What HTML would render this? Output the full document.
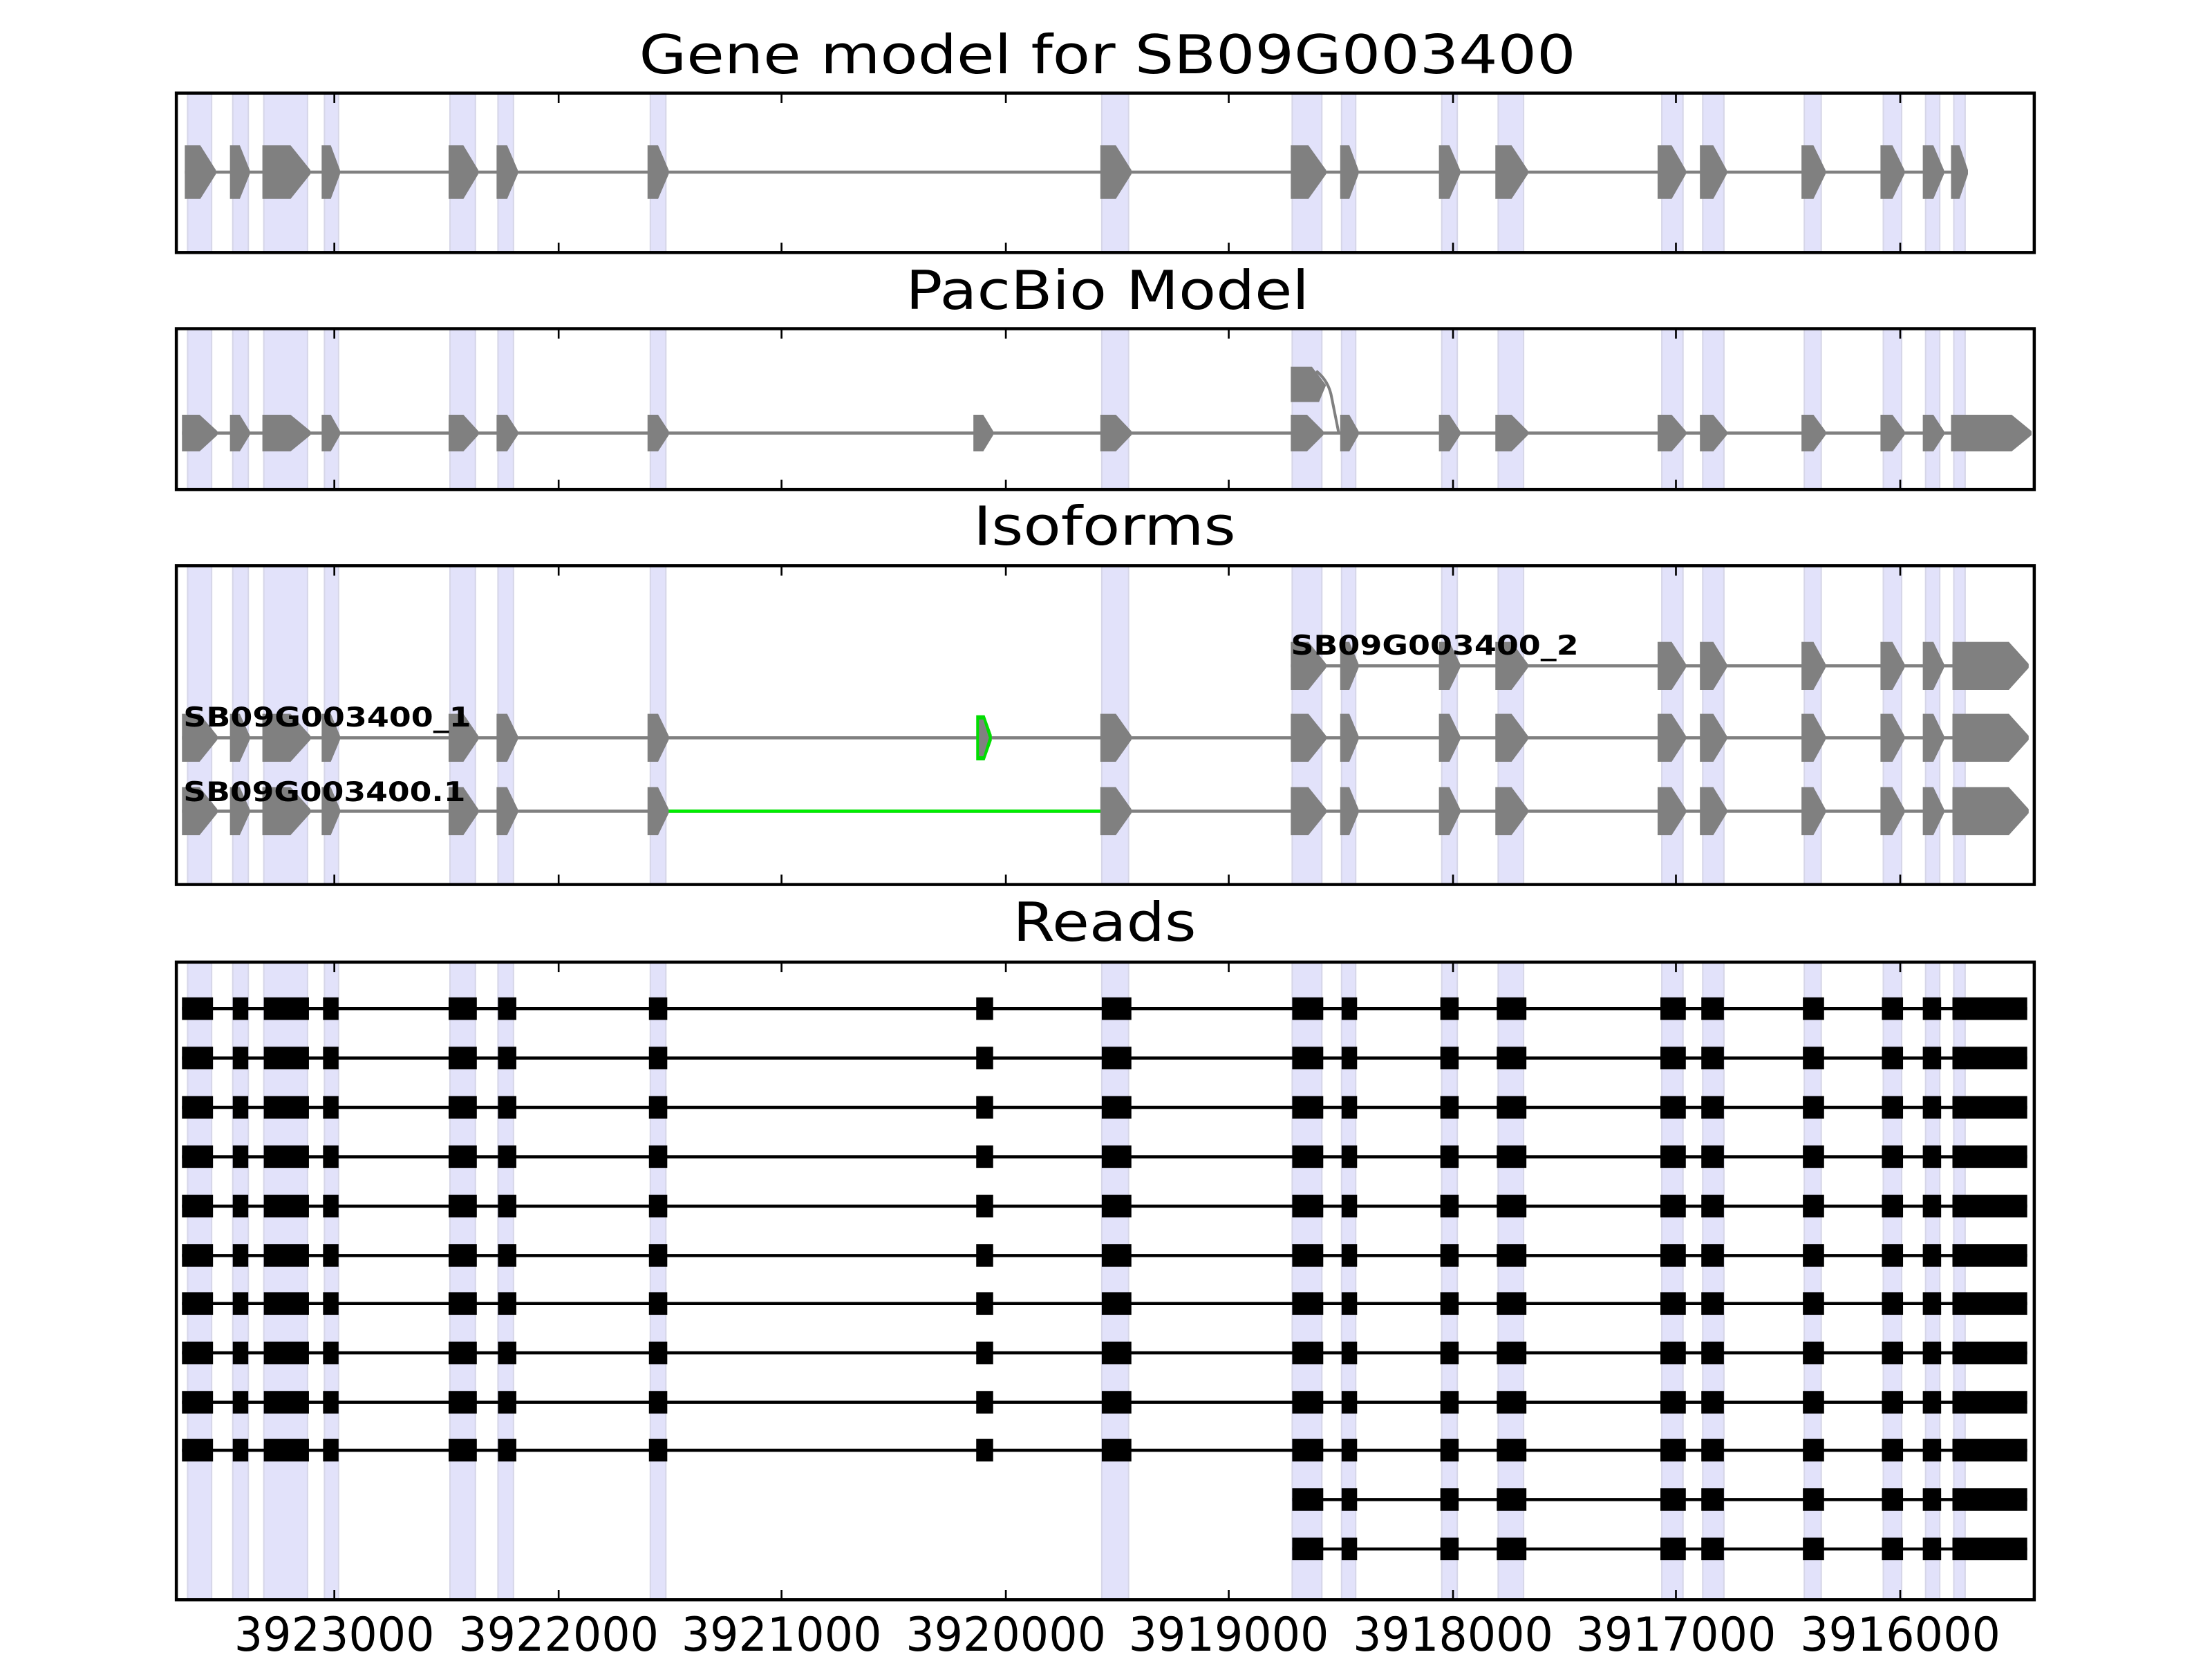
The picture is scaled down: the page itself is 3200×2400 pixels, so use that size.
<!DOCTYPE html>
<html><head><meta charset="utf-8"><style>html,body{margin:0;padding:0;background:#fff}svg{display:block}</style></head>
<body>
<svg id="s" xmlns="http://www.w3.org/2000/svg" width="3200" height="2400" viewBox="0 0 1568 1176">
<rect width="1568" height="1176" fill="#fff"/>
<g id="g"></g>
<g font-family="DejaVu Sans, Liberation Sans, sans-serif" fill="#000">
<text x="785" y="52" font-size="38" text-anchor="middle" textLength="664" lengthAdjust="spacingAndGlyphs">Gene model for SB09G003400</text>
<text x="785" y="219" font-size="38" text-anchor="middle" textLength="286" lengthAdjust="spacingAndGlyphs">PacBio Model</text>
<text x="783" y="386" font-size="38" text-anchor="middle" textLength="186" lengthAdjust="spacingAndGlyphs">Isoforms</text>
<text x="783" y="667" font-size="38" text-anchor="middle" textLength="130" lengthAdjust="spacingAndGlyphs">Reads</text>
<text x="915" y="464" font-size="19" font-weight="bold" textLength="204" lengthAdjust="spacingAndGlyphs">SB09G003400_2</text>
<text x="130" y="515" font-size="19" font-weight="bold" textLength="204" lengthAdjust="spacingAndGlyphs">SB09G003400_1</text>
<text x="130" y="568" font-size="19" font-weight="bold" textLength="200" lengthAdjust="spacingAndGlyphs">SB09G003400.1</text>
<g font-size="33" text-anchor="middle">
<text x="237" y="1170" textLength="142" lengthAdjust="spacingAndGlyphs">3923000</text>
<text x="396" y="1170" textLength="142" lengthAdjust="spacingAndGlyphs">3922000</text>
<text x="554" y="1170" textLength="142" lengthAdjust="spacingAndGlyphs">3921000</text>
<text x="713" y="1170" textLength="142" lengthAdjust="spacingAndGlyphs">3920000</text>
<text x="871" y="1170" textLength="142" lengthAdjust="spacingAndGlyphs">3919000</text>
<text x="1030" y="1170" textLength="142" lengthAdjust="spacingAndGlyphs">3918000</text>
<text x="1188" y="1170" textLength="142" lengthAdjust="spacingAndGlyphs">3917000</text>
<text x="1347" y="1170" textLength="142" lengthAdjust="spacingAndGlyphs">3916000</text>
</g>
</g>
</svg>
<script>
var NS="http://www.w3.org/2000/svg",G=document.getElementById('g');
function el(t,a){var e=document.createElementNS(NS,t);for(var k in a)e.setAttribute(k,a[k]);G.appendChild(e);return e;}
var bands=[[133,150],[165,176],[187,218],[230,240],[319,337],[353,364],[461,472],[781,800],[916,937],[951,961],[1022,1033],[1062,1080],[1178,1193],[1207,1222],[1279,1291],[1335,1348],[1365,1375],[1385,1393]];
var panels=[[66,179],[233,347],[401,627],[682,1134]];
var L=125,R=1442,ticks=[237,396,554,713,871,1030,1188,1347];
panels.forEach(function(p){
 bands.forEach(function(b){el('rect',{x:b[0],y:p[0],width:b[1]-b[0],height:p[1]-p[0],fill:'#e2e2fa',stroke:'#d6d6e8','stroke-width':1});});
});
function exon(x0,x1,y,h,col){var w=x1-x0,t=Math.min(w*0.5,14);
 el('polygon',{points:[x0,y-h,x1-t,y-h,x1,y-1.5,x1,y+1.5,x1-t,y+h,x0,y+h].join(' '),fill:col||'#808080'});}
function model(ex,y,h,col,x0,x1){el('line',{x1:x0,y1:y,x2:x1,y2:y,stroke:'#808080','stroke-width':2.2});ex.forEach(function(e){exon(e[0],e[1],y,h,col);});}
var gm=[[131,153],[163,177],[186,220],[228,241],[318,339],[352,367],[459,474],[780,802],[915,940],[950,963],[1020,1035],[1060,1083],[1175,1195],[1205,1224],[1277,1294],[1333,1350],[1363,1378],[1383,1395]];
model(gm,122,19,null,131,1395);
var pb=[[129,154],[163,177],[186,220],[228,241],[318,339],[352,367],[459,474],[690,704],[780,802],[915,938],[950,963],[1020,1035],[1060,1083],[1175,1195],[1205,1224],[1277,1294],[1333,1350],[1363,1378],[1383,1440]];
model(pb,307,13,null,129,1440);
el('polygon',{points:'915,260 930,260 940,273 935,285 915,285',fill:'#808080'});
el('path',{d:'M933,263 Q942,270 944,282 L949,307',fill:'none',stroke:'#808080','stroke-width':2});
var iso2=[[915,940],[950,963],[1020,1035],[1060,1083],[1175,1195],[1205,1224],[1277,1294],[1333,1350],[1363,1378],[1384,1438]];
model(iso2,472,17,null,915,1438);
var iso1=[[129,154],[163,177],[186,220],[228,241],[318,339],[352,367],[459,474],[780,802],[915,940],[950,963],[1020,1035],[1060,1083],[1175,1195],[1205,1224],[1277,1294],[1333,1350],[1363,1378],[1384,1438]];
model(iso1,523,17,null,129,1438);
el('polygon',{points:'692,507 698,507 703,521 703,525 698,539 692,539',fill:'#00dd00'});
el('polygon',{points:'694,510 697,510 701,523 697,536 694,536',fill:'#808080'});
model(iso1,575,17,null,129,1438);
el('line',{x1:474,y1:575,x2:780,y2:575,stroke:'#00ee00','stroke-width':2.2});
var rd=[[129,151],[165,176],[187,219],[229,240],[318,338],[353,366],[460,473],[692,704],[781,802],[916,938],[951,962],[1021,1034],[1061,1082],[1177,1195],[1206,1222],[1278,1293],[1334,1349],[1363,1376],[1384,1437]];
var rows=[715,750,785,820,855,890,924,959,994,1028,1063,1098];
rows.forEach(function(y,i){var ex=i<10?rd:rd.slice(9);var x0=ex[0][0];
 el('line',{x1:x0,y1:y,x2:1437,y2:y,stroke:'#000','stroke-width':2.2});
 ex.forEach(function(e){el('rect',{x:e[0],y:y-8,width:e[1]-e[0],height:16,fill:'#000'});});});
panels.forEach(function(p){
 ticks.forEach(function(t){el('line',{x1:t,y1:p[0],x2:t,y2:p[0]+7,stroke:'#000','stroke-width':1.3});el('line',{x1:t,y1:p[1],x2:t,y2:p[1]-7,stroke:'#000','stroke-width':1.3});});
 el('rect',{x:L,y:p[0],width:R-L,height:p[1]-p[0],fill:'none',stroke:'#000','stroke-width':2.2});
});
</script>
</body></html>
